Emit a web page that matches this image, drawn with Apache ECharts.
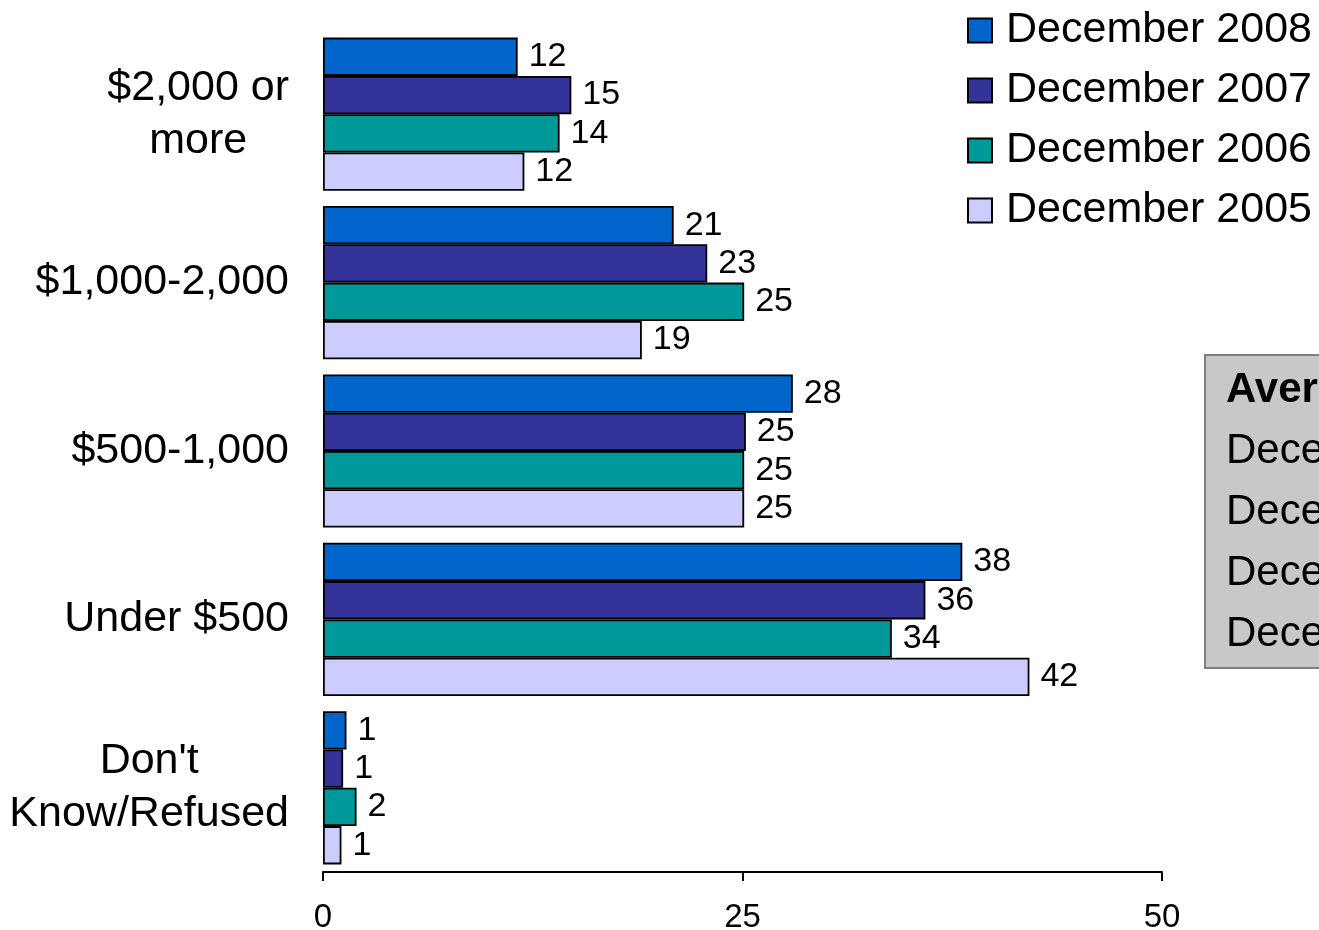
<!DOCTYPE html>
<html>
<head>
<meta charset="utf-8">
<script src="https://cdn.jsdelivr.net/npm/echarts@6/dist/echarts.min.js"></script>
<style>html,body{margin:0;padding:0;background:#fff;}#c{width:1319px;height:930px;}</style>
</head>
<body>
<div id="c"></div>
<script>
var categories = ["$2,000 or\nmore", "$1,000-2,000", "$500-1,000", "Under $500", "Don't\nKnow/Refused"];
var seriesNames = ["December 2008", "December 2007", "December 2006", "December 2005"];
var dec2008 = [11.6, 20.9, 28.0, 38.1, 1.4];
var dec2007 = [14.8, 22.9, 25.2, 35.9, 1.2];
var dec2006 = [14.1, 25.1, 25.1, 33.9, 2.0];
var dec2005 = [12.0, 19.0, 25.1, 42.1, 1.1];
var xTicks = [0, 25, 50];
var boxLines = ["Average", "December 2008", "December 2007", "December 2006", "December 2005"];

var colors = ["#0066CC", "#333399", "#009999", "#CCCCFF"];
var FONT = "Liberation Sans, Arial, sans-serif";
var allData = [dec2008, dec2007, dec2006, dec2005];

var chart = echarts.init(document.getElementById('c'), null, {renderer: 'canvas'});

var series = allData.map(function (d, i) {
  return {
    name: seriesNames[i],
    type: 'bar',
    data: d,
    barGap: '0%',
    barCategoryGap: '9%',
    itemStyle: {color: colors[i], borderColor: '#000', borderWidth: 1.8},
    label: {
      show: true, position: 'right', distance: 11,
      fontFamily: FONT, fontSize: 34, color: '#000',
      formatter: function (p) { return Math.round(p.value); }
    },
    emphasis: {disabled: true},
    animation: false
  };
});

var boxChildren = [{
  type: 'rect', shape: {x: 0, y: 0, width: 200, height: 313},
  style: {fill: '#C8C8C8', stroke: '#808080', lineWidth: 2}
}];
boxLines.forEach(function (t, i) {
  boxChildren.push({
    type: 'text', x: 21, y: 35 + i * 61,
    style: {text: t, fontFamily: FONT, fontSize: 42, fontWeight: i === 0 ? 'bold' : 'normal',
            fill: '#000', verticalAlign: 'middle', align: 'left'}
  });
});

chart.setOption({
  animation: false,
  backgroundColor: '#fff',
  grid: {left: 323, width: 839, top: 30, height: 842, containLabel: false, outerBoundsMode: 'none'},
  legend: {
    orient: 'vertical', left: 962, top: 4,
    itemWidth: 24, itemHeight: 24, itemGap: 17,
    icon: 'rect',
    data: seriesNames,
    textStyle: {fontFamily: FONT, fontSize: 43, color: '#000', lineHeight: 42, padding: [0, 0, 0, 9]},
    selectedMode: false
  },
  xAxis: {
    type: 'value', min: xTicks[0], max: xTicks[xTicks.length - 1], interval: 25,
    axisLine: {show: true, lineStyle: {color: '#000', width: 2}},
    axisTick: {show: true, inside: false, length: 9, lineStyle: {color: '#000', width: 2}},
    axisLabel: {fontFamily: FONT, fontSize: 33, color: '#000', margin: 29},
    splitLine: {show: false}
  },
  yAxis: {
    type: 'category', data: categories, inverse: true,
    axisLine: {show: false}, axisTick: {show: false},
    axisLabel: {
      margin: 34, align: 'right', color: '#000',
      formatter: function (v) {
        return v.split('\n').map(function (s) { return '{c|' + s + '}'; }).join('\n');
      },
      rich: {c: {fontFamily: FONT, fontSize: 43, lineHeight: 53, align: 'center', color: '#000'}}
    }
  },
  series: series,
  graphic: [{type: 'group', x: 1205, y: 355, children: boxChildren}]
});
</script>
</body>
</html>
